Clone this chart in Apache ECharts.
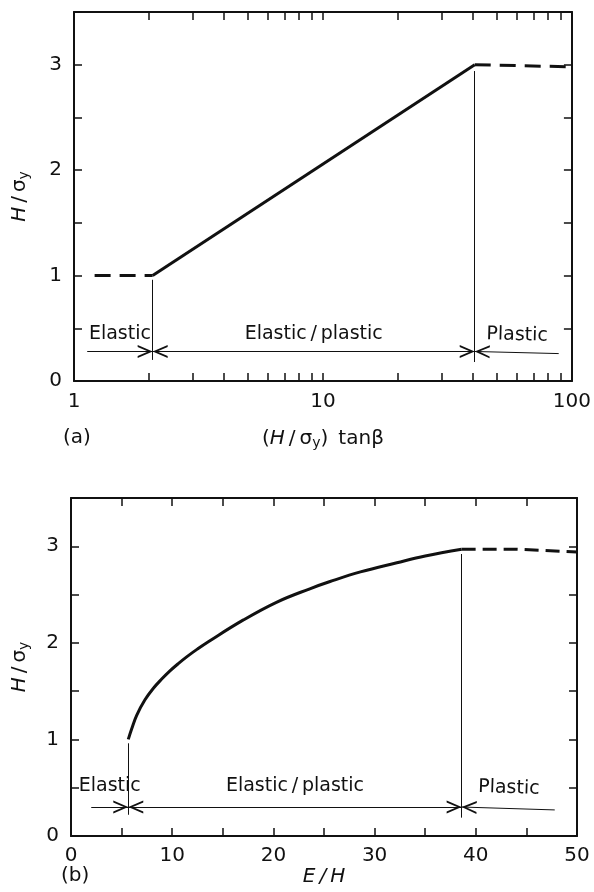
<!DOCTYPE html>
<html lang="en">
<head>
    <meta charset="UTF-8">
    <title>Hardness regimes</title>
    <script src="https://cdn.jsdelivr.net/npm/echarts@6.0.0/dist/echarts.min.js" type="text/javascript"></script>
    <style>
        html, body { margin: 0; padding: 0; background: #fff; }
        #chart { width: 594px; height: 892px; }
    </style>
</head>
<body>
<div id="chart"></div>

<script type="text/javascript">
    // (a) H/σy against (H/σy) tanβ  (log x axis)
    var aDashLow = [[1.21, 1], [2.07, 1]];
    var aSolid = [[2.07, 1], [40.7, 3]];
    var aDashHigh = [[40.7, 3], [100, 2.98]];
    var aBounds = [[2.07, 0.96, 0.2], [40.7, 2.94, 0.18]];          // x, top, bottom
    var aSpans = [[1.13, 2.07, 0.28, 0.28], [2.07, 40.7, 0.28, 0.28], [40.7, 88.5, 0.28, 0.26]];
    var aTicks = [2, 3, 4, 5, 6, 7, 8, 9, 10, 20, 30, 40, 50, 60, 70, 80, 90];
    var aLabels = [1, 10, 100];

    // (b) H/σy against E/H
    var bCurveX = [5.66, 6.0, 6.49, 7.31, 8.14, 8.96, 9.78, 10.6, 11.43, 12.48, 13.57, 17, 20.3, 23.6, 25.6, 28.6, 32.2, 35, 38.6];
    var bCurveY = [1.0, 1.11, 1.25, 1.41, 1.53, 1.625, 1.71, 1.785, 1.855, 1.935, 2.012, 2.235, 2.42, 2.56, 2.635, 2.735, 2.83, 2.9, 2.97];
    var bDashX = [38.6, 44, 50];
    var bDashY = [2.97, 2.97, 2.94];
    var bBounds = [[5.66, 0.96, 0.22], [38.6, 2.92, 0.19]];
    var bSpans = [[2.0, 5.66, 0.3, 0.3], [5.66, 38.6, 0.3, 0.3], [38.6, 47.8, 0.3, 0.27]];
    var bXLabels = [0, 10, 20, 30, 40, 50];

    var regimes = ['Elastic', 'Elastic\u2009/\u2009plastic', 'Plastic'];
    var yLabels = [0, 1, 2, 3];

    var FONT = 'DejaVu Sans';
    var INK = '#111';
    var chevron = 'path://M0,12 L6,0 L12,12 L10.2,12 L6,3.6 L1.8,12 Z';

    var rich = {
        it: {fontStyle: 'italic', fontSize: 20, fontFamily: FONT, color: INK},
        n: {fontSize: 20, fontFamily: FONT, color: INK},
        sub: {fontSize: 14, fontFamily: FONT, color: INK, padding: [9, 0, 0, 0]}
    };
    var hName = '{it|H}{n|\u2009/\u2009σ}{sub|y}';

    function zip(xs, ys) {
        return xs.map(function (x, i) { return [x, ys[i]]; });
    }

    function regimeLines(bounds, spans, gap) {
        var out = [];
        bounds.forEach(function (b) {
            out.push([{coord: [b[0], b[1]], symbol: 'none'}, {coord: [b[0], b[2]], symbol: 'none'}]);
        });
        spans.forEach(function (s, i) {
            var head = {symbol: chevron, symbolSize: [13, 15], symbolOffset: [0, '50%']};
            var from = {
                coord: [s[0], s[2]], symbol: 'none',
                label: {
                    show: true, position: 'middle', distance: gap, formatter: regimes[i],
                    color: INK, fontSize: 19, fontFamily: FONT
                }
            };
            var to = {coord: [s[1], s[3]], symbol: 'none'};
            if (i > 0) Object.assign(from, head);
            if (i < 2) Object.assign(to, head);
            out.push([from, to]);
        });
        return out;
    }

    function curve(name, data, xi, dash) {
        return {
            name: name, type: 'line', xAxisIndex: xi, yAxisIndex: xi,
            data: data, showSymbol: false, symbol: 'none',
            smooth: dash ? false : 0.4,
            lineStyle: {color: INK, width: 3, type: dash || 'solid'},
            emphasis: {disabled: true}, z: 3
        };
    }

    function regimeSeries(xi, bounds, spans, gap) {
        return {
            type: 'line', xAxisIndex: xi, yAxisIndex: xi, data: [],
            markLine: {
                silent: true, animation: false, symbol: ['none', 'none'],
                label: {show: false},
                lineStyle: {color: INK, width: 1, type: 'solid'},
                emphasis: {disabled: true},
                data: regimeLines(bounds, spans, gap)
            }
        };
    }

    var line = {onZero: false, lineStyle: {color: INK, width: 2}};
    var tick = {inside: true, length: 8, lineStyle: {color: INK, width: 1.5}};
    var lbl = {color: INK, fontSize: 20, fontFamily: FONT};

    function yAxes(grid, gap) {
        var base = {
            type: 'value', gridIndex: grid, min: 0, max: 3.5, interval: 0.5,
            axisLine: line, axisTick: tick, splitLine: {show: false}
        };
        return [
            Object.assign({}, base, {
                position: 'left',
                axisLabel: Object.assign({margin: 12, formatter: function (v) {
                    return yLabels.indexOf(v) >= 0 ? String(v) : '';
                }}, lbl),
                name: hName, nameLocation: 'middle', nameRotate: 90, nameGap: gap,
                nameTextStyle: {rich: rich}
            }),
            Object.assign({}, base, {position: 'right', axisLabel: {show: false}})
        ];
    }

    var chart = echarts.init(document.getElementById('chart'), null, {renderer: 'canvas'});
    var option = {
        animation: false,
        backgroundColor: '#fff',
        title: [
            {text: '(a)', left: 63, top: 428, padding: 0, textStyle: {color: INK, fontSize: 20, fontWeight: 'normal', fontFamily: FONT}},
            {text: '(b)', left: 61, top: 866, padding: 0, textStyle: {color: INK, fontSize: 20, fontWeight: 'normal', fontFamily: FONT}}
        ],
        grid: [
            {left: 74, right: 18, top: 12, height: 369},
            {left: 71, right: 17, top: 498, height: 338}
        ],
        xAxis: [
            {
                type: 'log', logBase: 10, gridIndex: 0, min: 1, max: 100, position: 'bottom',
                axisLine: line,
                axisTick: Object.assign({customValues: aTicks}, tick),
                axisLabel: Object.assign({customValues: aLabels, margin: 11}, lbl),
                splitLine: {show: false},
                name: '{n|(}' + hName + '{n|)\u2002tanβ}', nameLocation: 'middle', nameGap: 46,
                nameTextStyle: {rich: rich}
            },
            {
                type: 'log', logBase: 10, gridIndex: 0, min: 1, max: 100, position: 'top',
                axisLine: line,
                axisTick: Object.assign({customValues: aTicks}, tick),
                axisLabel: {show: false}, splitLine: {show: false}
            },
            {
                type: 'value', gridIndex: 1, min: 0, max: 50, interval: 5, position: 'bottom',
                axisLine: line, axisTick: tick, splitLine: {show: false},
                axisLabel: Object.assign({margin: 10, formatter: function (v) {
                    return bXLabels.indexOf(v) >= 0 ? String(v) : '';
                }}, lbl),
                name: '{it|E\u2009/\u2009H}', nameLocation: 'middle', nameGap: 30,
                nameTextStyle: {rich: rich}
            },
            {
                type: 'value', gridIndex: 1, min: 0, max: 50, interval: 5, position: 'top',
                axisLine: line, axisTick: tick, splitLine: {show: false}, axisLabel: {show: false}
            }
        ],
        yAxis: yAxes(0, 43).concat(yAxes(1, 40)),
        series: [
            curve('elastic limit', aDashLow, 0, [16, 9]),
            curve('elastic-plastic', aSolid, 0),
            curve('fully plastic', aDashHigh, 0, [16, 9]),
            regimeSeries(0, aBounds, aSpans, 8),
            curve('elastic-plastic', zip(bCurveX, bCurveY), 2),
            curve('fully plastic', zip(bDashX, bDashY), 2, [14, 7]),
            regimeSeries(2, bBounds, bSpans, 11)
        ]
    };
    chart.setOption(option);
</script>
</body>
</html>
